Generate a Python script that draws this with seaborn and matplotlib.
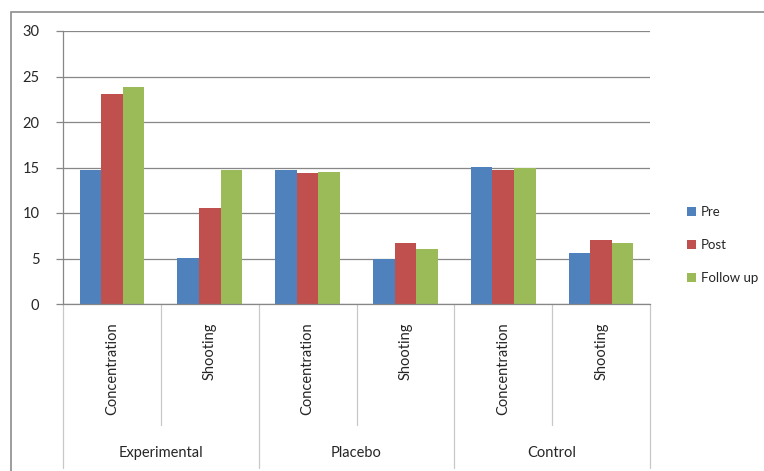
import numpy as np
import pandas as pd
import matplotlib
matplotlib.use("Agg")
import matplotlib.pyplot as plt
import matplotlib.patches as mpatches
import matplotlib.transforms as mtransforms
import seaborn as sns

# data
groups = ['Experimental', 'Placebo', 'Control']
measures = ['Concentration', 'Shooting']
phases = ['Pre', 'Post', 'Follow up']
pre = [14.7, 5.1, 14.7, 5.0, 15.1, 5.6]
post = [23.1, 10.5, 14.4, 6.7, 14.7, 7.0]
follow_up = [23.8, 14.7, 14.5, 6.0, 14.9, 6.7]
colors = ['#4F81BD', '#C0504D', '#9BBB59']

cats = [g + ' ' + m for g in groups for m in measures]
df = pd.DataFrame({
    'cat': cats * 3,
    'phase': np.repeat(phases, len(cats)),
    'value': pre + post + follow_up,
})

sns.set_style('white')
plt.rcParams['font.family'] = ['Lato', 'DejaVu Sans']

fig = plt.figure(figsize=(7.64, 4.71), dpi=100)
ax = fig.add_axes([63 / 764, 1 - 304 / 471, 587 / 764, 273 / 471])

sns.barplot(data=df, x='cat', y='value', hue='phase', palette=colors,
            saturation=1, width=0.66, ax=ax, edgecolor='none')

grid_c = '#878787'
fs = 10.5
ax.set_ylim(0, 30)
ax.set_yticks(range(0, 31, 5))
ax.set_xlim(-0.5, 5.5)
ax.yaxis.grid(True, color=grid_c, linewidth=0.9)
ax.set_axisbelow(True)
ax.tick_params(axis='y', length=5, color=grid_c, width=0.9, labelsize=fs,
               pad=12, left=True)
ax.tick_params(axis='x', bottom=False, labelbottom=False)
ax.set_xlabel('')
ax.set_ylabel('')
for s in ['top', 'right']:
    ax.spines[s].set_visible(False)
for s in ['left', 'bottom']:
    ax.spines[s].set_color(grid_c)
    ax.spines[s].set_linewidth(0.9)

# two-level category axis
trans = mtransforms.blended_transform_factory(ax.transData, ax.transAxes)
for i in range(len(cats) + 1):
    xb = i - 0.5
    y_end = -0.601 if i % 2 == 0 else -0.443
    ax.plot([xb, xb], [0, y_end], color='#c8c8c8', lw=0.9,
            transform=trans, clip_on=False)
for i, c in enumerate(cats):
    ax.text(i, -0.066, measures[i % 2], rotation=90, ha='center', va='top',
            fontsize=fs, transform=trans)
for j, g in enumerate(groups):
    ax.text(2 * j + 0.5, -0.546, g, ha='center', va='center',
            fontsize=fs, transform=trans)

ax.legend(loc='center left', bbox_to_anchor=(680 / 764, 1 - 245 / 471),
          bbox_transform=fig.transFigure, frameon=False, fontsize=9.5,
          handlelength=0.7, handleheight=0.7, handletextpad=0.4,
          labelspacing=1.6, borderpad=0, title=None)

# outer chart frame
fig.patches.append(mpatches.Rectangle((11 / 764, -0.05), 1.0, 1 - 12 / 471 + 0.05,
                                      transform=fig.transFigure, fill=False,
                                      edgecolor='#8c8c8c', lw=1.2))

fig.savefig('out.png', dpi=100)
